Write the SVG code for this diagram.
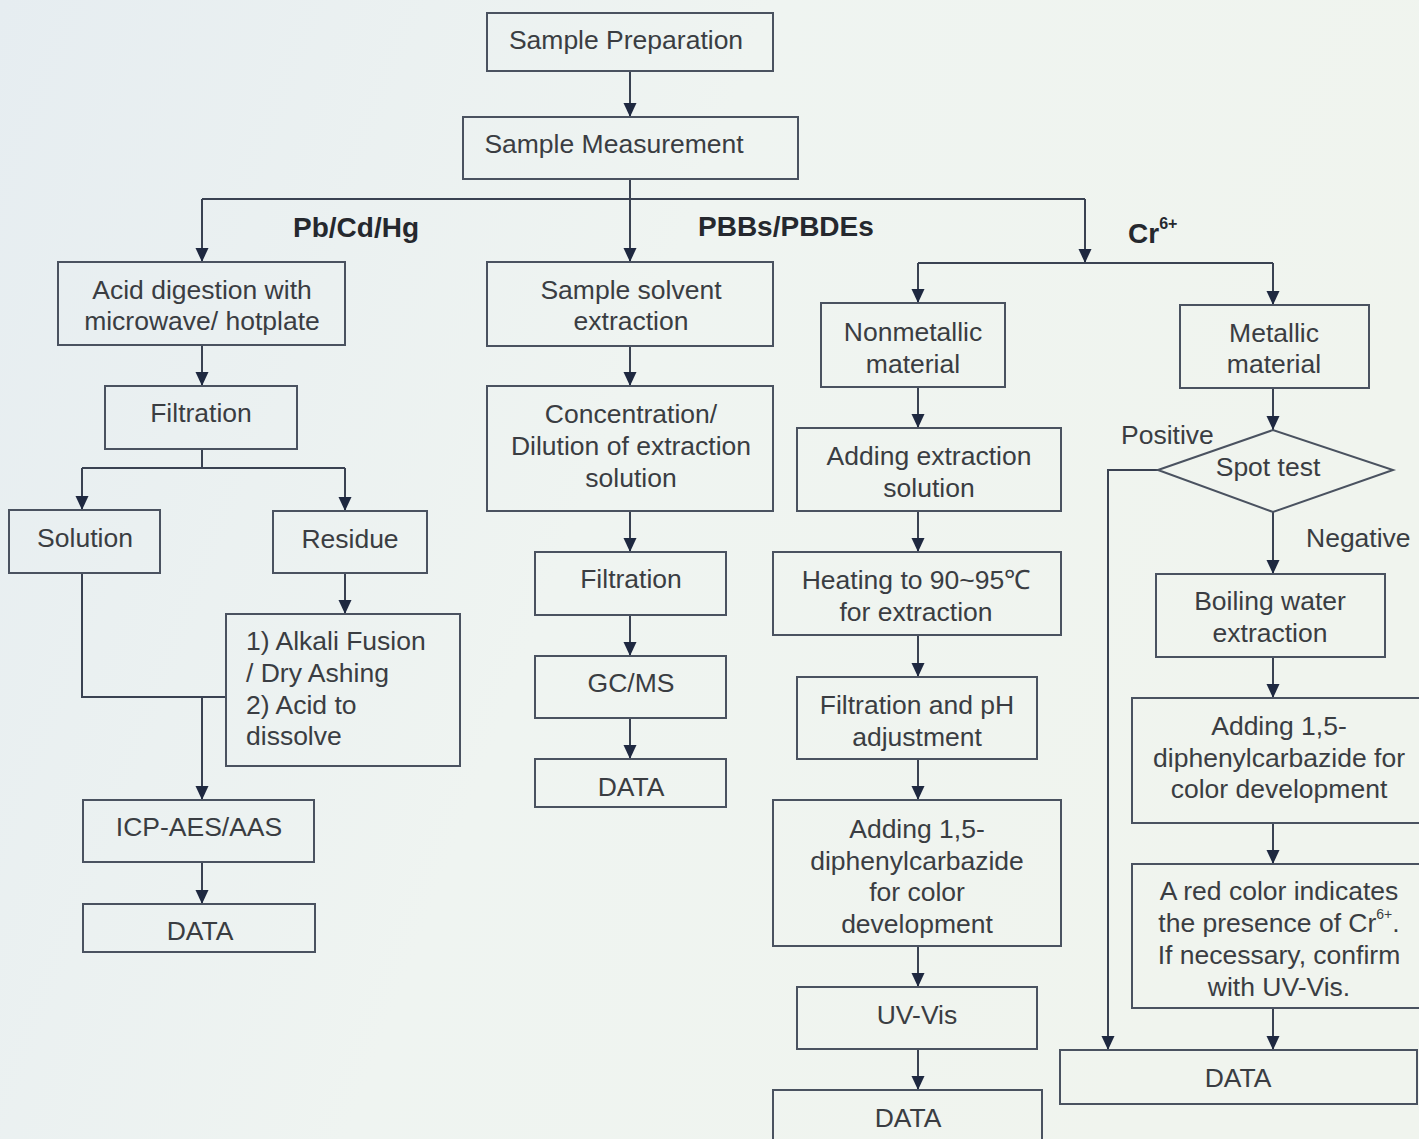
<svg xmlns="http://www.w3.org/2000/svg" width="1419" height="1139" viewBox="0 0 1419 1139">
<defs>
<linearGradient id="bg" x1="0" y1="0" x2="1" y2="0.3">
<stop offset="0" stop-color="#e6edf1"/>
<stop offset="0.5" stop-color="#eff4f1"/>
<stop offset="1" stop-color="#f0f4ee"/>
</linearGradient>
<marker id="arr" markerUnits="userSpaceOnUse" markerWidth="14" markerHeight="14" refX="14" refY="7" orient="auto">
<path d="M0,0.5 L14,7 L0,13.5 z" fill="#1e2840"/>
</marker>
<style>
.box{fill:none;stroke:#4a5260;stroke-width:2}
.t{font-family:"Liberation Sans",Arial,sans-serif;font-size:26.5px;fill:#3a3d42;text-anchor:middle;dominant-baseline:central}
.tl{text-anchor:start}
.b{font-family:"Liberation Sans",Arial,sans-serif;font-size:28px;font-weight:bold;fill:#25282e;dominant-baseline:central}
.c{fill:none;stroke:#3a4252;stroke-width:2}
.a{marker-end:url(#arr)}
</style>
</defs>
<rect width="1419" height="1139" fill="url(#bg)"/>

<g id="connectors">
<path class="c a" d="M630,71 V117"/>
<path class="c a" d="M630,179 V262"/>
<path class="c" d="M202,199 H1085"/>
<path class="c a" d="M202,199 V262"/>
<path class="c a" d="M1085,199 V263"/>
<path class="c" d="M918,263 H1273"/>
<path class="c a" d="M918,263 V303"/>
<path class="c a" d="M1273,263 V305"/>
<path class="c a" d="M202,345 V386"/>
<path class="c" d="M202,449 V468 M82,468 H345"/>
<path class="c a" d="M82,468 V510"/>
<path class="c a" d="M345,468 V511"/>
<path class="c a" d="M345,573 V614"/>
<path class="c" d="M82,573 V697 H226"/>
<path class="c a" d="M202,697 V800"/>
<path class="c a" d="M202,862 V904"/>
<path class="c a" d="M630,346 V386"/>
<path class="c a" d="M630,511 V552"/>
<path class="c a" d="M630,615 V656"/>
<path class="c a" d="M630,718 V759"/>
<path class="c a" d="M918,387 V428"/>
<path class="c a" d="M918,511 V552"/>
<path class="c a" d="M918,635 V677"/>
<path class="c a" d="M918,759 V800"/>
<path class="c a" d="M918,946 V987"/>
<path class="c a" d="M918,1049 V1090"/>
<path class="c a" d="M1273,388 V430"/>
<path class="c a" d="M1273,512 V574"/>
<path class="c a" d="M1273,657 V698"/>
<path class="c a" d="M1273,823 V864"/>
<path class="c a" d="M1273,1008 V1050"/>
<path class="c a" d="M1158,470 H1108 V1050"/>
</g>

<g id="labels">
<text class="b" x="293" y="227">Pb/Cd/Hg</text>
<text class="b" x="698" y="226">PBBs/PBDEs</text>
<text class="b" x="1128" y="233">Cr<tspan font-size="16" dy="-10">6+</tspan></text>
<text class="t tl" x="1121" y="435">Positive</text>
<text class="t tl" x="1306" y="538">Negative</text>
</g>

<g id="n-prep"><rect class="box" x="487" y="13" width="286" height="58"/><text class="t" x="626" y="40">Sample Preparation</text></g>
<g id="n-meas"><rect class="box" x="463" y="117" width="335" height="62"/><text class="t" x="614" y="144">Sample Measurement</text></g>

<g id="n-acid"><rect class="box" x="58" y="262" width="287" height="83"/><text class="t" x="202" y="290">Acid digestion with</text><text class="t" x="202" y="321">microwave/ hotplate</text></g>
<g id="n-filt1"><rect class="box" x="105" y="386" width="192" height="63"/><text class="t" x="201" y="413">Filtration</text></g>
<g id="n-sol"><rect class="box" x="9" y="510" width="151" height="63"/><text class="t" x="85" y="538">Solution</text></g>
<g id="n-res"><rect class="box" x="273" y="511" width="154" height="62"/><text class="t" x="350" y="539">Residue</text></g>
<g id="n-alk"><rect class="box" x="226" y="614" width="234" height="152"/>
<text class="t tl" x="246" y="641">1) Alkali Fusion</text><text class="t tl" x="246" y="673">/ Dry Ashing</text><text class="t tl" x="246" y="705">2) Acid to</text><text class="t tl" x="246" y="736">dissolve</text></g>
<g id="n-icp"><rect class="box" x="83" y="800" width="231" height="62"/><text class="t" x="199" y="827">ICP-AES/AAS</text></g>
<g id="n-data1"><rect class="box" x="83" y="904" width="232" height="48"/><text class="t" x="200" y="931">DATA</text></g>

<g id="n-solv"><rect class="box" x="487" y="262" width="286" height="84"/><text class="t" x="631" y="290">Sample solvent</text><text class="t" x="631" y="321">extraction</text></g>
<g id="n-conc"><rect class="box" x="487" y="386" width="286" height="125"/><text class="t" x="631" y="414">Concentration/</text><text class="t" x="631" y="446">Dilution of extraction</text><text class="t" x="631" y="478">solution</text></g>
<g id="n-filt2"><rect class="box" x="535" y="552" width="191" height="63"/><text class="t" x="631" y="579">Filtration</text></g>
<g id="n-gcms"><rect class="box" x="535" y="656" width="191" height="62"/><text class="t" x="631" y="683">GC/MS</text></g>
<g id="n-data2"><rect class="box" x="535" y="759" width="191" height="48"/><text class="t" x="631" y="787">DATA</text></g>

<g id="n-nonmet"><rect class="box" x="821" y="303" width="184" height="84"/><text class="t" x="913" y="332">Nonmetallic</text><text class="t" x="913" y="364">material</text></g>
<g id="n-addext"><rect class="box" x="797" y="428" width="264" height="83"/><text class="t" x="929" y="456">Adding extraction</text><text class="t" x="929" y="488">solution</text></g>
<g id="n-heat"><rect class="box" x="773" y="552" width="288" height="83"/><text class="t" x="916" y="580">Heating to 90~95℃</text><text class="t" x="916" y="612">for extraction</text></g>
<g id="n-filtph"><rect class="box" x="797" y="677" width="240" height="82"/><text class="t" x="917" y="705">Filtration and pH</text><text class="t" x="917" y="737">adjustment</text></g>
<g id="n-dpc1"><rect class="box" x="773" y="800" width="288" height="146"/><text class="t" x="917" y="829">Adding 1,5-</text><text class="t" x="917" y="861">diphenylcarbazide</text><text class="t" x="917" y="892">for color</text><text class="t" x="917" y="924">development</text></g>
<g id="n-uv"><rect class="box" x="797" y="987" width="240" height="62"/><text class="t" x="917" y="1015">UV-Vis</text></g>
<g id="n-data3"><rect class="box" x="773" y="1090" width="269" height="60"/><text class="t" x="908" y="1118">DATA</text></g>

<g id="n-met"><rect class="box" x="1180" y="305" width="189" height="83"/><text class="t" x="1274" y="333">Metallic</text><text class="t" x="1274" y="364">material</text></g>
<g id="n-spot"><path class="box" d="M1158,470 L1273,430 L1393,470 L1273,512 Z"/><text class="t" x="1268" y="467">Spot test</text></g>
<g id="n-boil"><rect class="box" x="1156" y="574" width="229" height="83"/><text class="t" x="1270" y="601">Boiling water</text><text class="t" x="1270" y="633">extraction</text></g>
<g id="n-dpc2"><rect class="box" x="1132" y="698" width="290" height="125"/><text class="t" x="1279" y="726">Adding 1,5-</text><text class="t" x="1279" y="758">diphenylcarbazide for</text><text class="t" x="1279" y="789">color development</text></g>
<g id="n-red"><rect class="box" x="1132" y="864" width="290" height="144"/><text class="t" x="1279" y="891">A red color indicates</text><text class="t" x="1279" y="923">the presence of Cr<tspan font-size="14" dy="-9">6+</tspan><tspan dy="9">.</tspan></text><text class="t" x="1279" y="955">If necessary, confirm</text><text class="t" x="1279" y="987">with UV-Vis.</text></g>
<g id="n-data4"><rect class="box" x="1060" y="1050" width="357" height="54"/><text class="t" x="1238" y="1078">DATA</text></g>
</svg>
